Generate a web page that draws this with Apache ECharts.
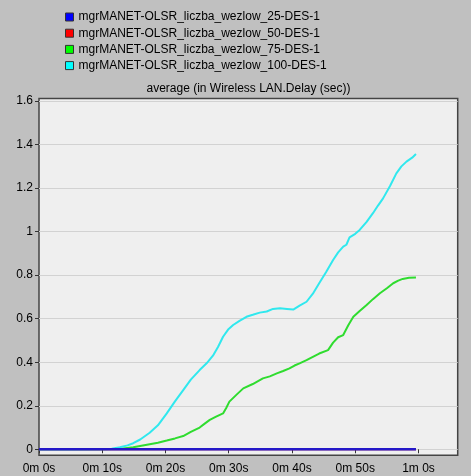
<!DOCTYPE html>
<html>
<head>
<meta charset="utf-8">
<script src="https://cdn.jsdelivr.net/npm/echarts@6/dist/echarts.min.js"></script>
<style>
html,body{margin:0;padding:0;background:#c0c0c0;}
#chart{width:471px;height:476px;}
</style>
</head>
<body>
<div id="chart"></div>
<script>
// ---- data ----
const seriesNames = [
  'mgrMANET-OLSR_liczba_wezlow_25-DES-1',
  'mgrMANET-OLSR_liczba_wezlow_50-DES-1',
  'mgrMANET-OLSR_liczba_wezlow_75-DES-1',
  'mgrMANET-OLSR_liczba_wezlow_100-DES-1'
];
const titleText = 'average (in Wireless LAN.Delay (sec))';
const xTickValues = [0, 10, 20, 30, 40, 50, 60];   // seconds
const yTickValues = [0, 0.2, 0.4, 0.6, 0.8, 1, 1.2, 1.4, 1.6];

// [time (s), delay (sec)]
const nodes25 = [[0, 0], [10, 0], [20, 0], [30, 0], [40, 0], [50, 0], [59.6, 0]];
const nodes50 = [[0, 0], [10, 0], [20, 0], [30, 0], [40, 0], [50, 0], [59.6, 0]];
const nodes75 = [
  [0, 0], [10, 0], [13, 0.002], [14.9, 0.009], [16.2, 0.016], [17.5, 0.023], [18.8, 0.03],
  [20.2, 0.04], [21.5, 0.05], [22.8, 0.061], [24, 0.08], [25.4, 0.1], [26.2, 0.118],
  [27, 0.135], [28, 0.15], [29.1, 0.165], [29.6, 0.19], [30.1, 0.219], [31.2, 0.25],
  [32.3, 0.28], [33.8, 0.3], [35.4, 0.326], [36.5, 0.335], [37.6, 0.349], [38.6, 0.36],
  [39.6, 0.372], [40.4, 0.385], [41.2, 0.395], [42.3, 0.41], [43.3, 0.425], [44.3, 0.44],
  [45.7, 0.456], [46.5, 0.49], [47.3, 0.515], [48.1, 0.525], [48.9, 0.57], [49.7, 0.609],
  [50.7, 0.635], [51.8, 0.663], [52.8, 0.69], [53.9, 0.717], [55, 0.74], [56, 0.763],
  [56.8, 0.775], [57.5, 0.783], [58.5, 0.788], [59.6, 0.789]
];
const nodes100 = [
  [0, 0], [5, 0], [10, 0.001], [11.5, 0.003], [12.8, 0.009], [14, 0.018], [14.9, 0.028],
  [16, 0.045], [17.5, 0.076], [18.8, 0.11], [20.2, 0.165], [21.5, 0.22], [22.8, 0.272],
  [24, 0.32], [25.4, 0.364], [26.5, 0.395], [27.5, 0.43], [28.3, 0.47], [29.1, 0.517],
  [29.9, 0.55], [30.7, 0.571], [31.7, 0.59], [32.8, 0.609], [33.8, 0.618], [34.9, 0.628],
  [36, 0.633], [37, 0.645], [38.1, 0.648], [39.2, 0.645], [40.2, 0.642], [41.2, 0.66],
  [42.3, 0.678], [43.3, 0.715], [44.3, 0.763], [45.4, 0.815], [46.5, 0.87], [47.3, 0.905],
  [48.1, 0.931], [48.6, 0.94], [49.1, 0.974], [50, 0.99], [50.7, 1.008], [51.8, 1.045],
  [52.8, 1.085], [53.6, 1.12], [54.4, 1.153], [55.5, 1.21], [56.5, 1.268], [57.3, 1.3],
  [58.1, 1.322], [59, 1.34], [59.6, 1.357]
];

// ---- styling ----
const FONT = 'Liberation Sans, Arial, sans-serif';
const lineColors = ['#2418c8', '#e01010', '#2fdc2f', '#30e8ee'];
const legendColors = ['#0000ff', '#ff0000', '#00ff00', '#00ffff'];

const chart = echarts.init(document.getElementById('chart'), null, {renderer: 'canvas'});

const fmtTime = v => Math.floor(v / 60) + 'm ' + Math.round(v % 60) + 's';

const option = {
  backgroundColor: '#c0c0c0',
  animation: false,
  title: {
    text: titleText,
    left: 248.5,
    top: 83,
    padding: 0,
    textAlign: 'center',
    textStyle: {fontFamily: FONT, fontSize: 12, fontWeight: 'normal', color: '#000'}
  },
  legend: {
    orient: 'vertical',
    left: 65,
    top: 10,
    padding: 0,
    itemWidth: 8,
    itemHeight: 8,
    itemGap: 2.2,
    icon: 'rect',
    selectedMode: false,
    itemStyle: {borderColor: '#333', borderWidth: 1},
    textStyle: {fontFamily: FONT, fontSize: 12, color: '#000', lineHeight: 14},
    data: seriesNames.map((n, i) => ({name: n, itemStyle: {color: legendColors[i], borderColor: '#333', borderWidth: 1}}))
  },
  grid: [
    {
      left: 39, right: 13.3, top: 98.5, bottom: 20.7,
      show: true, backgroundColor: '#efefef', borderColor: '#444', borderWidth: 1.5,
      z: -1, outerBoundsMode: 'none'
    },
    {
      left: 39, right: 13.3, top: 101, bottom: 26.7,
      show: false, outerBoundsMode: 'none'
    }
  ],
  xAxis: [
    {
      type: 'value', gridIndex: 0, min: 0, max: 66.2,
      axisLine: {show: false},
      axisTick: {show: true, length: 4, customValues: xTickValues, lineStyle: {color: '#333'}},
      axisLabel: {show: true, customValues: xTickValues, formatter: fmtTime, margin: 7,
                  fontFamily: FONT, fontSize: 12, color: '#000'},
      splitLine: {show: false}
    },
    {type: 'value', gridIndex: 1, min: 0, max: 66.2, show: false}
  ],
  yAxis: [
    {type: 'value', gridIndex: 0, min: -0.0276, max: 1.612, show: false},
    {
      type: 'value', gridIndex: 1, min: 0, max: 1.6, interval: 0.2,
      axisLine: {show: false},
      axisTick: {show: true, length: 4, lineStyle: {color: '#333'}},
      axisLabel: {show: true, margin: 6, fontFamily: FONT, fontSize: 12, color: '#000',
                  formatter: v => String(Math.round(v * 10) / 10)},
      splitLine: {show: true, lineStyle: {color: '#d2d2d2', width: 1}}
    }
  ],
  series: [
    {name: seriesNames[1], type: 'line', xAxisIndex: 0, yAxisIndex: 0, data: nodes50,
     showSymbol: false, z: 3, lineStyle: {color: lineColors[1], width: 2}, itemStyle: {color: legendColors[1]}},
    {name: seriesNames[2], type: 'line', xAxisIndex: 0, yAxisIndex: 0, data: nodes75,
     showSymbol: false, z: 3, lineStyle: {color: lineColors[2], width: 2}, itemStyle: {color: legendColors[2]}},
    {name: seriesNames[3], type: 'line', xAxisIndex: 0, yAxisIndex: 0, data: nodes100,
     showSymbol: false, z: 3, lineStyle: {color: lineColors[3], width: 2}, itemStyle: {color: legendColors[3]}},
    {name: seriesNames[0], type: 'line', xAxisIndex: 0, yAxisIndex: 0, data: nodes25,
     showSymbol: false, z: 5, lineStyle: {color: lineColors[0], width: 2.5}, itemStyle: {color: legendColors[0]}}
  ]
};
chart.setOption(option);
</script>
</body>
</html>
